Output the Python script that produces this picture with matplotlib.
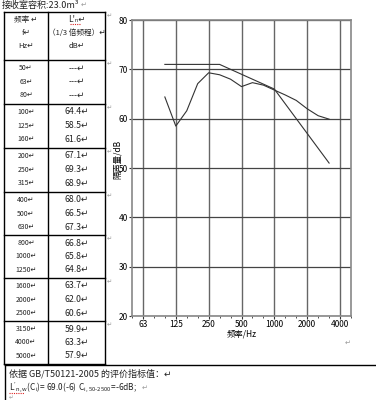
import matplotlib.pyplot as plt

plt.rcParams['font.family'] = ['Noto Sans CJK SC', 'DejaVu Sans']

# 1/3 octave bands shown in the table
freqs = ['50', '63', '80', '100', '125', '160', '200', '250', '315', '400', '500', '630',
         '800', '1000', '1250', '1600', '2000', '2500', '3150', '4000', '5000']
table_vals = ['---', '---', '---', '64.4', '58.5', '61.6', '67.1', '69.3', '68.9', '68.0',
              '66.5', '67.3', '66.8', '65.8', '64.8', '63.7', '62.0', '60.6', '59.9', '63.3', '57.9']

# curve data (100 - 3150 Hz)
meas = [64.4, 58.5, 61.6, 67.1, 69.3, 68.9, 68.0, 66.5, 67.3, 66.8, 65.8, 64.8, 63.7, 62.0, 60.6, 59.9]
ref_shifted = [71, 71, 71, 71, 71, 71, 70, 69, 68, 67, 66, 63, 60, 57, 54, 51]
octave_labels = ['63', '125', '250', '500', '1000', '2000', '4000']
y_ticks = [20, 30, 40, 50, 60, 70, 80]

W, H = 376, 400
fig = plt.figure(figsize=(W / 100, H / 100), dpi=100)

# ---- document layer (pixel coords) ----
doc = fig.add_axes([0, 0, 1, 1])
doc.set_xlim(0, W)
doc.set_ylim(H, 0)
doc.axis('off')

txt = '#222222'
mark = '#999999'
doc.text(2, 5, '接收室容积:23.0m³', fontsize=6.5, color=txt, va='center')
doc.text(81, 5, '↵', fontsize=5, color=mark, va='center')

x_l, x_m, x_r = 4, 48, 105
y_top = 12
group_lines = [60, 104, 148, 192, 235, 278, 321, 364]
y_bot = 364

# table borders
for xv in (x_l, x_m, x_r):
    doc.plot([xv, xv], [y_top, y_bot], color='black', lw=1)
doc.plot([x_l, x_r], [y_top, y_top], color='black', lw=1)
for gy in group_lines:
    doc.plot([x_l, x_r], [gy, gy], color='black', lw=1)

c1 = (x_l + x_m) / 2
c2 = (x_m + x_r) / 2
doc.text(c1, 20, '频率 ↵', fontsize=5.5, color=txt, ha='center', va='center')
doc.text(c1, 33, 'f↵', fontsize=5.5, color=txt, ha='center', va='center')
doc.text(c1, 46, 'Hz↵', fontsize=5.5, color=txt, ha='center', va='center')
doc.text(c2, 20, "L'ₙ↵", fontsize=6, color=txt, ha='center', va='center')
doc.plot([c2 - 7, c2 + 4], [24, 24], color='#dd2222', lw=0.8, ls=(0, (1, 1)))
doc.text(c2, 33, '（1/3 倍频程）↵', fontsize=5.5, color=txt, ha='center', va='center')
doc.text(c2, 46, 'dB↵', fontsize=5.5, color=txt, ha='center', va='center')

for i, (f, v) in enumerate(zip(freqs, table_vals)):
    g = i // 3
    y = group_lines[g] + 8 + (i % 3) * 13.5
    doc.text(c1, y, f + '↵', fontsize=5, color=txt, ha='center', va='center')
    doc.text(c2, y, v + '↵', fontsize=6.3, color=txt, ha='center', va='center')

# paragraph marks right of table
for gy in [y_top] + group_lines[:-1]:
    doc.text(x_r + 2, gy + 3, '↵', fontsize=4.5, color=mark, va='center')
doc.text(345, 343, '↵', fontsize=5, color=mark, va='center')

# bottom box
doc.plot([5, W], [y_bot + 1, y_bot + 1], color='black', lw=1)
doc.plot([5, 5], [y_bot + 1, H], color='black', lw=1)
doc.text(9, 374, '依据 GB/T50121-2005 的评价指标值：↵', fontsize=6.5, color=txt, va='center')
formula = doc.text(9, 388,
                   r"$\mathregular{L'_{n,w}(C_i)\!=69.0(\text{-}6)\ C_{i,50\text{-}2500}\!=\!\text{-}6dB;}$",
                   fontsize=6, color=txt, va='center')
doc.annotate('↵', xy=(1, 0.5), xycoords=formula, xytext=(3, 0), textcoords='offset points',
             fontsize=5, color=mark, va='center')
doc.plot([9, 24], [392.5, 392.5], color='#dd2222', lw=0.8, ls=(0, (1, 1)))
doc.text(9, 398, '↵', fontsize=4, color=mark, va='center')

# ---- chart ----
ax = fig.add_axes([132 / W, 1 - 316 / H, 219 / W, 296 / H])
x_all = list(range(len(freqs)))
x_data = x_all[3:3 + len(meas)]
oct_pos = [freqs.index(o) for o in octave_labels]

ax.set_xlim(0, len(freqs) - 1)
ax.set_ylim(20, 80)
for xp in oct_pos:
    ax.axvline(xp, color='#666666', lw=1, zorder=1)
for yv in y_ticks:
    ax.axhline(yv, color='#444444', lw=0.9, zorder=1)

ax.plot(x_data, meas, color='#333333', lw=0.8, zorder=3)
ax.plot(x_data, ref_shifted, color='#333333', lw=0.8, zorder=3)

ax.set_xticks(oct_pos)
ax.set_xticklabels(octave_labels, fontsize=6)
ax.set_xticks(x_all, minor=True)
ax.set_yticks(y_ticks)
ax.set_yticklabels([str(v) for v in y_ticks], fontsize=6)
ax.tick_params(axis='both', which='major', length=2, pad=1, color='#333333')
ax.tick_params(axis='x', which='minor', length=1.5, color='#333333')
for s in ax.spines.values():
    s.set_color('#888888')
    s.set_linewidth(1.2)
ax.set_xlabel('频率/Hz', fontsize=6, labelpad=0)
ax.set_ylabel('隔声量/dB', fontsize=6)
ax.yaxis.set_label_coords(-0.045, 0.53)

fig.savefig('out.png', dpi=100)
